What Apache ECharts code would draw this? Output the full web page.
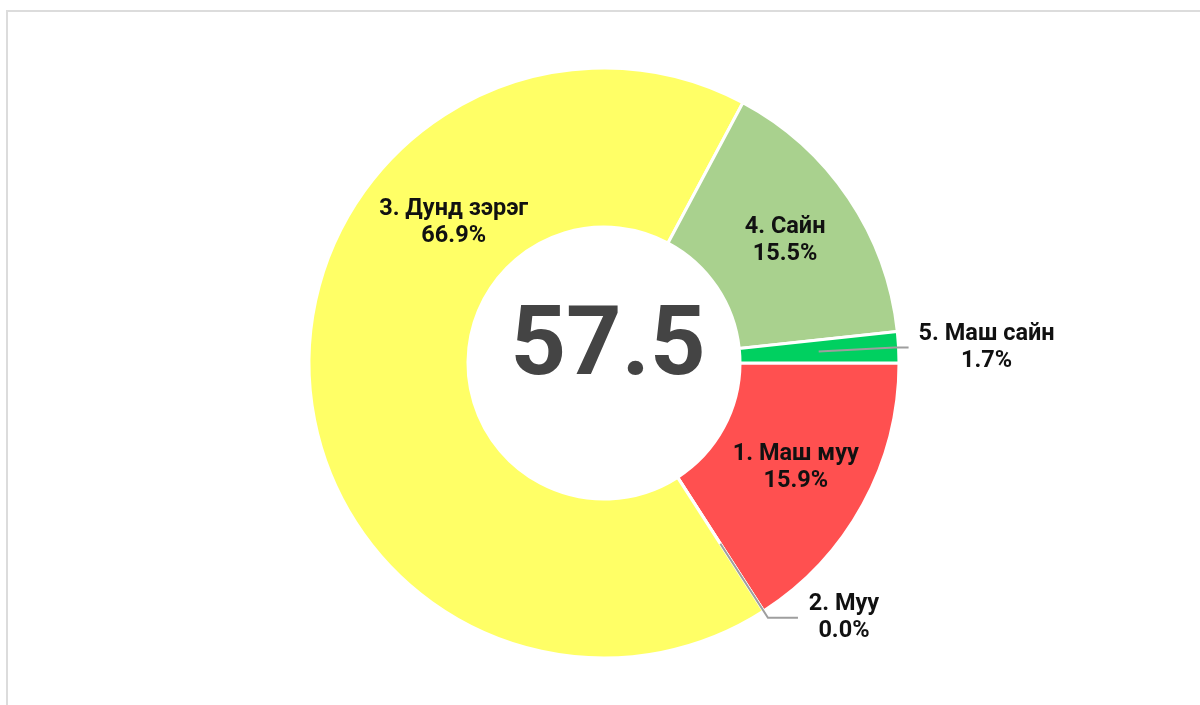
<!DOCTYPE html>
<html>
<head>
<meta charset="utf-8">
<script src="https://cdn.jsdelivr.net/npm/echarts@6/dist/echarts.min.js"></script>
<style>
html,body{margin:0;padding:0;background:#fff;overflow:hidden;}
#frame{position:absolute;left:6px;top:10px;width:1220px;height:720px;border:2px solid #dcdcdc;box-sizing:border-box;}
#chart{position:absolute;left:0;top:0;width:1200px;height:705px;}
</style>
</head>
<body>
<div id="frame"></div>
<div id="chart"></div>
<script>
const categories = ['1. Маш муу', '2. Муу', '3. Дунд зэрэг', '4. Сайн', '5. Маш сайн'];
const values = [15.9, 0.0, 66.9, 15.5, 1.7];
const colors = ['#ff5050', '#ff9933', '#ffff66', '#a9d18e', '#00d060'];
const centerValue = '57.5';
const outsideLabels = ['2. Муу', '5. Маш сайн'];

const chart = echarts.init(document.getElementById('chart'));
const font = 'Roboto';
const fs = 23.5;
const innerData = categories.map((c, i) => {
  const item = { name: c, value: values[i], itemStyle: { color: colors[i] } };
  if (outsideLabels.includes(c)) item.label = { show: false };
  if (c === '3. Дунд зэрэг') item.label = { offset: [68, -149] };
  return item;
});
const richA = w => ({ a: { fontFamily: font, fontWeight: 'bold', fontSize: fs, lineHeight: 27, color: '#111', width: w, align: 'center' } });
const helperData = categories.map((c, i) => {
  const item = { name: c, value: values[i], itemStyle: { color: 'rgba(0,0,0,0)' } };
  if (!outsideLabels.includes(c)) { item.label = { show: false }; item.labelLine = { show: false }; }
  else if (c === '2. Муу') { item.labelLine = { length: 88, length2: 30 }; item.label = { rich: richA(92) }; }
  else { item.labelLine = { length: 76, length2: 14 }; item.label = { rich: richA(156) }; }
  return item;
});
chart.setOption({
  animation: false,
  series: [
    {
      type: 'pie',
      center: [604, 363],
      radius: [136, 295],
      startAngle: 0,
      clockwise: true,
      avoidLabelOverlap: false,
      itemStyle: { borderColor: '#fff', borderWidth: 3 },
      label: {
        show: true, position: 'inside',
        formatter: p => p.name + '\n' + p.value.toFixed(1) + '%',
        fontFamily: font, fontWeight: 'bold', fontSize: fs, lineHeight: 27, color: '#111', align: 'center'
      },
      labelLine: { show: false },
      data: innerData
    },
    {
      type: 'pie',
      center: [604, 363],
      radius: [0, 215],
      startAngle: 0,
      clockwise: true,
      silent: true,
      z: 5,
      avoidLabelOverlap: false,
      itemStyle: { borderWidth: 0 },
      label: {
        show: true, position: 'outside',
        formatter: p => '{a|' + p.name + '}\n{a|' + p.value.toFixed(1) + '%}',
        distanceToLabelLine: 0
      },
      labelLine: { show: true, lineStyle: { color: '#9e9e9e', width: 2 } },
      data: helperData
    }
  ],
  graphic: [{
    type: 'text', z: 10,
    style: { text: centerValue, x: 608, y: 350, align: 'center', verticalAlign: 'middle',
      fontFamily: font, fontWeight: 'bold', fontSize: 97, fill: '#444' }
  }]
});
</script>
</body>
</html>
